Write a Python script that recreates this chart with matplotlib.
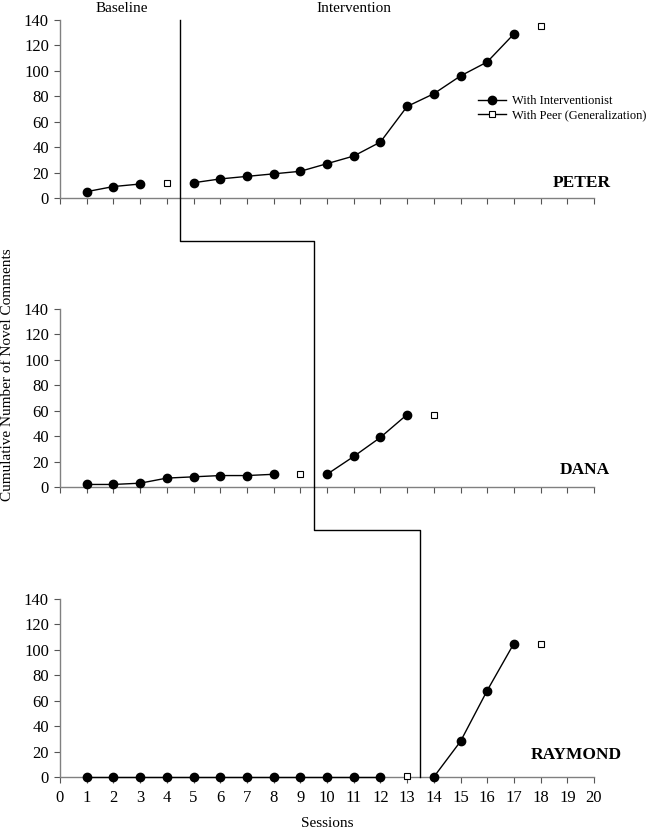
import numpy as np
import matplotlib
matplotlib.use('Agg')
import matplotlib.pyplot as plt
from matplotlib.lines import Line2D

plt.rcParams['font.family'] = ['Liberation Serif', 'DejaVu Serif']

# Data (session, cumulative novel comments)
peter_base_x = [1, 2, 3]
peter_base_y = [5, 9, 11]
peter_int_x = list(range(5, 18))
peter_int_y = [12, 15, 17, 19, 21, 27, 33, 44, 72, 82, 96, 107, 129]
peter_peer_x = [4, 18]
peter_peer_y = [12, 135]

dana_base_x = list(range(1, 9))
dana_base_y = [2, 2, 3, 7, 8, 9, 9, 10]
dana_int_x = [10, 11, 12, 13]
dana_int_y = [10, 24, 39, 57]
dana_peer_x = [9, 14]
dana_peer_y = [10, 57]

ray_base_x = list(range(1, 13))
ray_base_y = [0] * 12
ray_int_x = [14, 15, 16, 17]
ray_int_y = [0, 28, 68, 105]
ray_peer_x = [13, 18]
ray_peer_y = [1, 105]

names = ['PETER', 'DANA', 'RAYMOND']
phase_x = [4.5, 9.5, 13.5]
yticks = list(range(0, 141, 20))
xticks = list(range(0, 21))

W, H = 649, 830
fig = plt.figure(figsize=(W / 100, H / 100), dpi=100)

def px_box(left, right, top, bottom):
    return [left / W, 1 - bottom / H, (right - left) / W, (bottom - top) / H]

ax1 = fig.add_axes(px_box(60, 594, 20, 198))
ax2 = fig.add_axes(px_box(60, 594, 309, 487))
ax3 = fig.add_axes(px_box(60, 594, 599, 777))
axes = [ax1, ax2, ax3]

gray = '#808080'
series = [
    (peter_base_x, peter_base_y, peter_int_x, peter_int_y, peter_peer_x, peter_peer_y),
    (dana_base_x, dana_base_y, dana_int_x, dana_int_y, dana_peer_x, dana_peer_y),
    (ray_base_x, ray_base_y, ray_int_x, ray_int_y, ray_peer_x, ray_peer_y),
]

for i, (ax, s) in enumerate(zip(axes, series)):
    bx, by, ix, iy, px, py = s
    ax.plot(bx, by, color='k', lw=1.0, marker='o', ms=6, clip_on=False, zorder=3)
    ax.plot(ix, iy, color='k', lw=1.0, marker='o', ms=6, clip_on=False, zorder=3)
    ax.plot(px, py, ls='none', marker='s', ms=4.5, mfc='white', mec='k',
            mew=0.8, clip_on=False, zorder=3)
    ax.set_xlim(0, 20)
    ax.set_ylim(0, 140)
    ax.set_yticks(yticks)
    ax.set_xticks(xticks)
    for side in ['top', 'right']:
        ax.spines[side].set_visible(False)
    for side in ['left', 'bottom']:
        ax.spines[side].set_color(gray)
        ax.spines[side].set_linewidth(1.0)
    ax.tick_params(direction='out', length=4, width=0.8, color='#555555',
                   labelsize=12, pad=4)
    if i < 2:
        ax.tick_params(axis='x', labelbottom=False)
    else:
        ax.tick_params(axis='x', pad=5)
    ax.patch.set_visible(False)

# Participant names
for ax, name, xv, yv in zip(axes, names, [19.55, 19.65, 19.35], [12, 13, 17]):
    ax.text(xv, yv, name, fontsize=12.5, fontweight='bold', ha='center',
            va='center')

ax3.set_xlabel('Sessions', fontsize=11, labelpad=8)
fig.text(8 / W, 1 - 375 / H, 'Cumulative Number of Novel Comments',
         rotation=90, ha='center', va='center', fontsize=11)

fig.text(122 / W, 1 - 8 / H, 'Baseline', ha='center', va='center', fontsize=11)
fig.text(354 / W, 1 - 8 / H, 'Intervention', ha='center', va='center', fontsize=11)

# Staggered phase-change line across the three panels
step = -34
pts = [(ax1, phase_x[0], 140), (ax1, phase_x[0], step), (ax1, phase_x[1], step),
       (ax2, phase_x[1], step), (ax2, phase_x[2], step), (ax3, phase_x[2], 0)]
inv = fig.transFigure.inverted()
fx, fy = [], []
for ax, x, y in pts:
    u, v = inv.transform(ax.transData.transform((x, y)))
    fx.append(u)
    fy.append(v)
fig.add_artist(Line2D(fx, fy, transform=fig.transFigure, color='k', lw=1.0))

# Legend
handles = [Line2D([], [], color='k', lw=1.0, marker='o', ms=6),
           Line2D([], [], color='k', lw=1.0, marker='s', ms=4.5, mfc='white',
                  mew=0.8)]
ax1.legend(handles, ['With Interventionist', 'With Peer (Generalization)'],
           loc='upper left', bbox_to_anchor=(478 / W, 1 - 95 / H),
           bbox_transform=fig.transFigure, frameon=False, fontsize=9,
           handlelength=2.2, handletextpad=0.5, borderpad=0, borderaxespad=0,
           labelspacing=0.2)

fig.savefig('out.png', dpi=100)
